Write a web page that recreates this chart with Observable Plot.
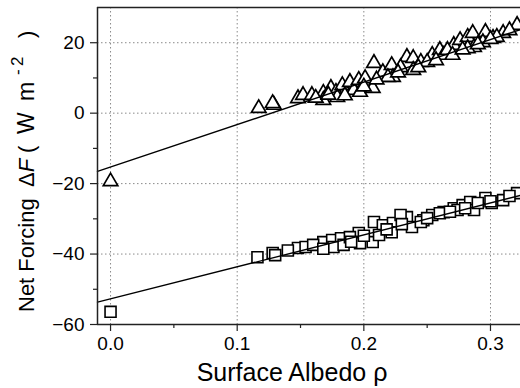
<!DOCTYPE html>
<html><head><meta charset="utf-8">
<script src="https://cdn.jsdelivr.net/npm/d3@7"></script>
<script src="https://cdn.jsdelivr.net/npm/@observablehq/plot@0.6"></script>
<style>body{margin:0;background:#fff} svg{display:block}</style>
</head><body><div id="chart"></div>
<script>
// Triangle series (upper cloud)
const triX=[0.117,0.129,0.128,0.148,0.152,0.159,0.168,0.174,0.178,0.183,0.189,0.192,0.197,0.196,0.201,0.207,0.208,0.215,0.222,0.223,0.234,0.239,0.245,0.239,0.254,0.260,0.263,0.271,0.276,0.282,0.286,0.287,0.296,0.302,0.310,0.321,0.168,0.179,0.219,0.229,0.250,0.266,0.282,0.294,0.305,0.185,0.200,0.210,0.227,0.243,0.257,0.270,0.278,0.290,0.300,0.315,0.162,0.172];
const triY=[1.4,2.3,2.8,4.2,5.1,5.1,5.7,7.1,6.0,7.9,8.8,6.5,6.0,9.4,9.9,7.1,14.2,11.6,13.6,10.2,15.9,15.6,14.5,12.2,16.5,17.9,16.5,19.3,20.7,21.6,22.7,18.7,23.0,21.3,22.7,25.0,3.7,4.5,10.2,13.0,14.5,17.9,18.4,20.1,21.6,5.0,7.5,9.5,11.5,13.0,15.0,16.5,18.0,19.5,21.0,23.5,4.3,5.2];
// Square series (lower cloud)
const sqX=[0.116,0.128,0.130,0.148,0.154,0.168,0.175,0.182,0.196,0.197,0.207,0.208,0.215,0.212,0.223,0.222,0.234,0.238,0.247,0.254,0.263,0.271,0.278,0.284,0.287,0.296,0.301,0.310,0.321,0.176,0.184,0.229,0.245,0.260,0.274,0.290,0.189,0.160,0.168,0.190,0.200,0.218,0.230,0.250,0.268,0.280,0.300,0.315,0.140];
const sqY=[-40.9,-39.7,-40.3,-38.3,-38.0,-36.6,-36.0,-35.5,-34.0,-36.9,-36.6,-30.9,-31.8,-34.6,-31.2,-33.8,-29.5,-32.3,-30.4,-28.9,-28.1,-27.0,-26.1,-25.2,-27.5,-24.1,-25.5,-24.7,-22.7,-38.0,-37.4,-28.9,-30.9,-28.4,-27.5,-25.5,-35.2,-37.4,-38.5,-36.5,-34.8,-33.0,-31.5,-29.8,-28.0,-27.0,-25.0,-23.5,-39.0];
// Points at zero albedo
const zeroX=[0];
const zeroTriY=[-19.4];
const zeroSqY=[-56.4];
// Linear fits
const fitSeries=["triangle","square"];
const fitIntercept=[-15.3,-52.7];
const fitSlope=[120.6,90.7];
// Axes
const xDomain=[-0.0103,0.3237];
const yDomain=[-60,30];
const xTicks=[0,0.1,0.2,0.3];
const xMinor=[0.05,0.15,0.25];
const yTicks=[-60,-40,-20,0,20];
const yMinor=[-50,-30,-10,10];
const xGrid=[0,0.1,0.2,0.3];
const yGrid=[-40,-20,0,20];

const tri=triX.map((x,i)=>({x,y:triY[i]})).concat(zeroX.map((x,i)=>({x,y:zeroTriY[i]})));
const sq=sqX.map((x,i)=>({x,y:sqY[i]})).concat(zeroX.map((x,i)=>({x,y:zeroSqY[i]})));
const fits=fitSeries.flatMap((s,i)=>xDomain.map(x=>({s,x,y:fitIntercept[i]+fitSlope[i]*x})));

const grid={stroke:"#8a8a8a",strokeOpacity:1,strokeWidth:1,strokeDasharray:"1.5,2.5"};
const svg=Plot.plot({
  width:520,height:388,
  marginLeft:97,marginRight:0,marginTop:7,marginBottom:64,
  style:{fontFamily:"'Liberation Sans', Arial, sans-serif",fontSize:"19px",color:"black",background:"white"},
  x:{domain:xDomain},
  y:{domain:yDomain},
  marks:[
    Plot.gridX(xGrid,grid),
    Plot.gridY(yGrid,grid),
    Plot.dot(tri,{x:"x",y:"y",symbol:"triangle",r:5.4,fill:"white",stroke:"black",strokeWidth:1.7}),
    Plot.dot(sq,{x:"x",y:"y",symbol:"square",r:6.2,fill:"white",stroke:"black",strokeWidth:1.6}),
    Plot.line(fits,{x:"x",y:"y",z:"s",stroke:"black",strokeWidth:1.4}),
    Plot.ruleX([xDomain[0]],{stroke:"#222",strokeWidth:1.5}),
    Plot.ruleY([yDomain[0]],{stroke:"#222",strokeWidth:1.5}),
    Plot.ruleY([yDomain[1]],{stroke:"#222",strokeWidth:1.5}),
    Plot.axisX(xTicks,{tickFormat:d=>d.toFixed(1),tickSize:7,tickPadding:5,label:null,stroke:"#222",strokeWidth:1.2,fill:"black"}),
    Plot.axisX(xMinor,{tickSize:4,text:null,label:null,stroke:"#222",strokeWidth:1.2}),
    Plot.axisY(yTicks,{tickSize:7,tickPadding:6,label:null,stroke:"#222",strokeWidth:1.2,fill:"black"}),
    Plot.axisY(yMinor,{tickSize:4,text:null,label:null,stroke:"#222",strokeWidth:1.2})
  ]
});
document.getElementById("chart").appendChild(svg);

const s=d3.select(svg);
s.append("text").attr("x",292).attr("y",381).attr("text-anchor","middle")
 .attr("font-size",25).attr("fill","black").text("Surface Albedo ρ");
const yl=s.append("text").attr("transform","translate(34,0) rotate(-90)")
 .attr("text-anchor","start").attr("font-size",22).attr("fill","black");
yl.append("tspan").attr("x",-312).text("Net Forcing");
yl.append("tspan").attr("x",-187).text("Δ");
yl.append("tspan").attr("font-style","italic").text("F");
yl.append("tspan").attr("x",-153).text("(");
yl.append("tspan").attr("x",-134).attr("font-size",23).text("W");
yl.append("tspan").attr("x",-101).attr("font-size",23).text("m");
yl.append("tspan").attr("x",-75).attr("font-size",17).attr("dy",-11).text("-");
yl.append("tspan").attr("x",-66).attr("font-size",17).text("2");
yl.append("tspan").attr("x",-38).attr("dy",11).text(")");
</script></body></html>
